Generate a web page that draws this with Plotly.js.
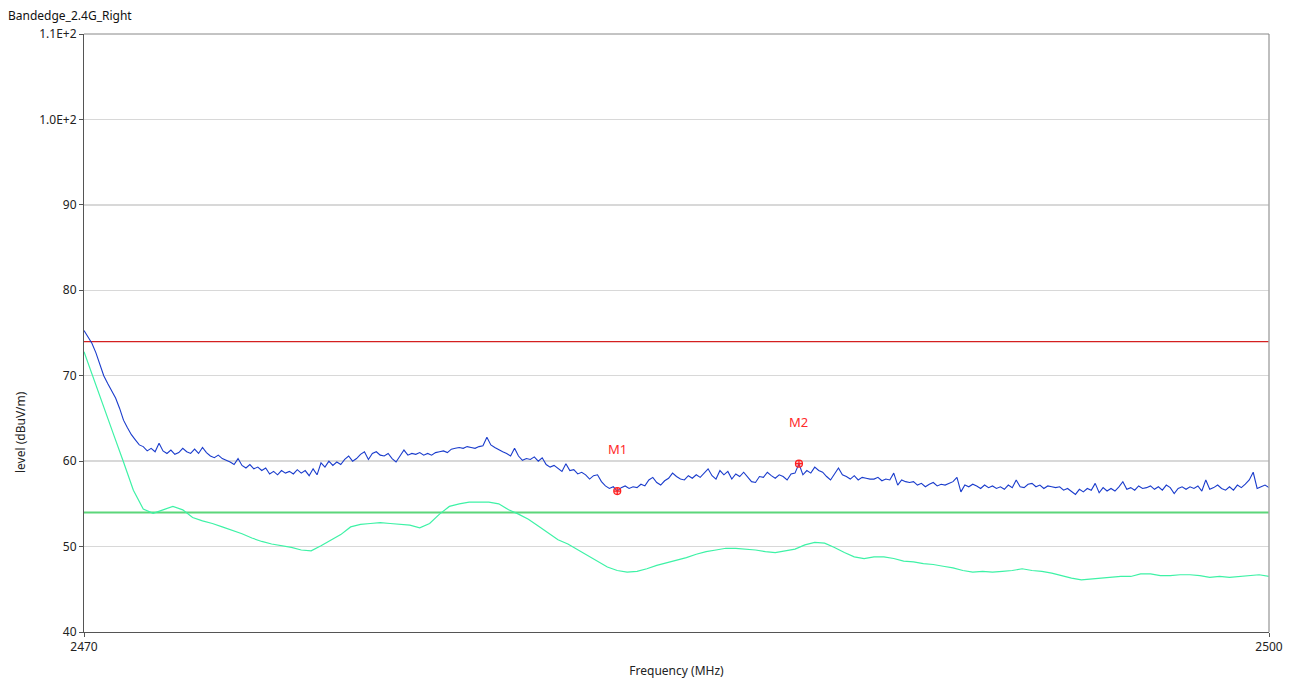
<!DOCTYPE html>
<html>
<head>
<meta charset="utf-8">
<script src="https://cdn.plot.ly/plotly-3.0.1.min.js"></script>
<style>html,body{margin:0;padding:0;background:#fff;}#chart{width:1298px;height:684px;}</style>
</head>
<body>
<div id="chart"></div>
<script>
// Sweep definition (MHz)
const sweepStart = 2470;
const sweepStop = 2500;
const peakStep = 0.1;
const avgStep = 0.25;

// Peak trace (blue), dBuV/m, one row per MHz, 0.1 MHz spacing
const peakLevel = [
  75.3, 74.6, 73.8, 72.7, 71.4, 70.0, 69.1, 68.2, 67.4, 66.2,
  64.8, 63.9, 63.1, 62.5, 61.9, 61.7, 61.2, 61.5, 61.1, 62.1,
  61.2, 60.9, 61.3, 60.8, 61.0, 61.5, 61.1, 60.9, 61.4, 60.9,
  61.6, 61.0, 60.6, 60.4, 60.7, 60.3, 60.1, 59.9, 59.6, 60.3,
  59.5, 59.2, 59.6, 59.1, 59.3, 58.9, 59.2, 58.5, 58.8, 58.4,
  58.9, 58.6, 58.8, 58.5, 59.0, 58.6, 58.9, 58.3, 59.1, 58.4,
  59.8, 59.3, 60.0, 59.5, 59.9, 59.6, 60.2, 60.6, 60.0, 60.3,
  60.8, 61.1, 60.2, 60.9, 61.1, 60.7, 60.6, 60.9, 60.3, 59.9,
  60.6, 61.3, 60.7, 60.9, 60.8, 61.0, 60.7, 60.9, 60.7, 61.0,
  61.1, 61.2, 61.0, 61.4, 61.5, 61.6, 61.5, 61.7, 61.6, 61.5,
  61.7, 61.8, 62.8, 61.9, 61.6, 61.3, 61.1, 60.9, 60.6, 61.5,
  60.6, 60.1, 60.3, 60.2, 60.5, 60.0, 60.4, 59.6, 59.3, 59.5,
  59.2, 58.8, 59.7, 58.9, 59.0, 58.5, 58.7, 58.4, 57.9, 58.3,
  58.4, 57.6, 57.1, 56.8, 57.0, 56.5, 56.9, 57.1, 56.8, 57.0,
  56.9, 57.3, 57.1, 57.8, 58.1, 57.5, 57.2, 57.7, 58.0, 58.6,
  58.2, 57.9, 57.8, 58.3, 58.0, 58.4, 58.1, 58.6, 59.1, 58.3,
  57.9, 58.9, 58.4, 58.8, 57.9, 58.5, 58.2, 58.7, 58.1, 57.6,
  57.5, 58.2, 58.1, 58.7, 58.3, 58.0, 58.4, 58.2, 57.8, 58.5,
  58.6, 59.7, 58.4, 58.9, 58.6, 59.3, 58.9, 58.7, 58.2, 57.8,
  58.5, 59.2, 58.4, 58.2, 57.9, 58.3, 57.8, 58.1, 58.0, 57.9,
  57.9, 58.1, 57.7, 57.9, 57.8, 58.6, 57.2, 57.8, 57.6, 57.5,
  57.6, 57.2, 57.4, 57.0, 57.3, 57.5, 57.1, 57.3, 57.2, 57.4,
  57.6, 58.1, 56.4, 57.2, 57.0, 57.3, 57.1, 56.8, 57.2, 56.9,
  57.1, 56.8, 57.0, 56.7, 57.2, 56.9, 57.8, 57.0, 56.9, 57.3,
  57.4, 57.0, 57.2, 56.8, 57.1, 57.0, 56.9, 57.0, 56.6, 56.8,
  56.5, 56.1, 56.7, 56.4, 56.8, 56.6, 57.4, 56.3, 56.9, 56.5,
  56.8, 56.5, 57.0, 57.6, 56.7, 56.9, 56.6, 57.1, 56.8, 56.9,
  57.1, 56.7, 57.0, 56.6, 57.2, 56.9, 56.2, 56.8, 57.0, 56.7,
  57.0, 56.8, 57.1, 56.5, 57.8, 56.7, 56.9, 57.2, 56.8, 56.6,
  57.0, 56.6, 57.2, 56.9, 57.3, 57.8, 58.7, 56.8, 57.0, 57.2,
  56.9
];

// Average trace (green), dBuV/m, 0.25 MHz spacing
const avgLevel = [
  72.8, 69.5, 66.3, 63.1,
  59.9, 56.6, 54.4, 53.9,
  54.3, 54.7, 54.3, 53.4,
  53.0, 52.7, 52.3, 51.9,
  51.5, 51.0, 50.6, 50.3,
  50.1, 49.9, 49.6, 49.5,
  50.1, 50.8, 51.4, 52.3,
  52.6, 52.7, 52.8, 52.7,
  52.6, 52.5, 52.2, 52.7,
  53.8, 54.7, 55.0, 55.2,
  55.2, 55.2, 55.0, 54.3,
  53.8, 53.2, 52.4, 51.6,
  50.8, 50.3, 49.6, 48.9,
  48.2, 47.6, 47.2, 47.0,
  47.1, 47.4, 47.8, 48.1,
  48.4, 48.7, 49.1, 49.4,
  49.6, 49.8, 49.8, 49.7,
  49.6, 49.4, 49.3, 49.5,
  49.7, 50.2, 50.5, 50.4,
  49.9, 49.3, 48.8, 48.6,
  48.8, 48.8, 48.6, 48.3,
  48.2, 48.0, 47.9, 47.7,
  47.5, 47.2, 47.0, 47.1,
  47.0, 47.1, 47.2, 47.4,
  47.2, 47.1, 46.9, 46.6,
  46.3, 46.1, 46.2, 46.3,
  46.4, 46.5, 46.5, 46.8,
  46.8, 46.6, 46.6, 46.7,
  46.7, 46.6, 46.4, 46.5,
  46.4, 46.5, 46.6, 46.7,
  46.5
];

// Limit lines
const peakLimit = 74;
const avgLimit = 54;

// Markers
const markerNames = ['M1', 'M2'];
const markerFreq = [2483.5, 2488.1];
const markerLevel = [56.5, 59.7];

// Axis ticks
const yTickVals = [40, 50, 60, 70, 80, 90, 100, 110];
const yTickText = ['40', '50', '60', '70', '80', '90', '1.0E+2', '1.1E+2'];
const xTickVals = [2470, 2500];
const xTickText = ['2470', '2500'];

const peakFreq = peakLevel.map((_, i) => +(sweepStart + i * peakStep).toFixed(2));
const avgFreq = avgLevel.map((_, i) => +(sweepStart + i * avgStep).toFixed(2));

const FONT = 'Noto Sans, DejaVu Sans, sans-serif';

const traces = [
  {x: [sweepStart, sweepStop], y: [peakLimit, peakLimit], mode: 'lines',
   line: {color: '#d42020', width: 1.2}, hoverinfo: 'skip'},
  {x: [sweepStart, sweepStop], y: [avgLimit, avgLimit], mode: 'lines',
   line: {color: '#5cd67a', width: 2}, hoverinfo: 'skip'},
  {x: avgFreq, y: avgLevel, mode: 'lines',
   line: {color: '#3ef2a6', width: 1.2}, hoverinfo: 'skip'},
  {x: peakFreq, y: peakLevel, mode: 'lines',
   line: {color: '#1a3ccc', width: 1.1}, hoverinfo: 'skip'},
  {x: markerFreq, y: markerLevel, mode: 'markers',
   marker: {color: 'rgba(255,80,80,0.35)', size: 7, symbol: 'circle-cross', line: {color: '#ff2020', width: 1.2}},
   hoverinfo: 'skip'}
];

const annotations = markerNames.map((n, i) => ({
  x: markerFreq[i], y: markerLevel[i], text: n, showarrow: false,
  yshift: 42, font: {family: FONT, size: 13, color: '#ff2a2a'}
}));
annotations.push({
  xref: 'paper', yref: 'paper', x: (20 - 84) / 1185, y: (632 - 432) / 598,
  text: 'level (dBuV/m)', textangle: -90, showarrow: false,
  xanchor: 'center', yanchor: 'middle',
  font: {family: FONT, size: 12, color: '#222'}
});

const layout = {
  width: 1298, height: 684,
  margin: {l: 84, r: 29, t: 34, b: 52},
  paper_bgcolor: '#ffffff', plot_bgcolor: '#ffffff',
  showlegend: false,
  font: {family: FONT, size: 12, color: '#222'},
  title: {text: 'Bandedge_2.4G_Right', x: 8 / 1298, xanchor: 'left', xref: 'container',
          y: 0.977, yanchor: 'middle', yref: 'container', font: {family: FONT, size: 12, color: '#111'}},
  xaxis: {
    range: [sweepStart, sweepStop], tickvals: xTickVals, ticktext: xTickText,
    showgrid: false, zeroline: false, showline: true, linecolor: '#555', linewidth: 1,
    ticks: 'outside', ticklen: 4, tickcolor: '#555',
    tickfont: {family: FONT, size: 12, color: '#222'},
    title: {text: 'Frequency (MHz)', font: {family: FONT, size: 12, color: '#222'}, standoff: 12},
    automargin: false
  },
  yaxis: {
    range: [40, 110], tickvals: yTickVals, ticktext: yTickText,
    showgrid: true, gridcolor: '#d8d8d8', gridwidth: 1.5, zeroline: false,
    showline: true, linecolor: '#555', linewidth: 1,
    ticks: 'outside', ticklen: 4, tickcolor: '#555',
    tickfont: {family: FONT, size: 12, color: '#222'},
    automargin: false
  },
  shapes: [
    {type: 'line', xref: 'paper', yref: 'paper', x0: 1, x1: 1, y0: 0, y1: 1,
     line: {color: '#aaaaaa', width: 1.5}},
    {type: 'line', xref: 'paper', yref: 'paper', x0: 0, x1: 1, y0: 1, y1: 1,
     line: {color: '#888888', width: 1}}
  ],
  annotations: annotations
};

Plotly.newPlot('chart', traces, layout, {displayModeBar: false, staticPlot: true});
</script>
</body>
</html>
